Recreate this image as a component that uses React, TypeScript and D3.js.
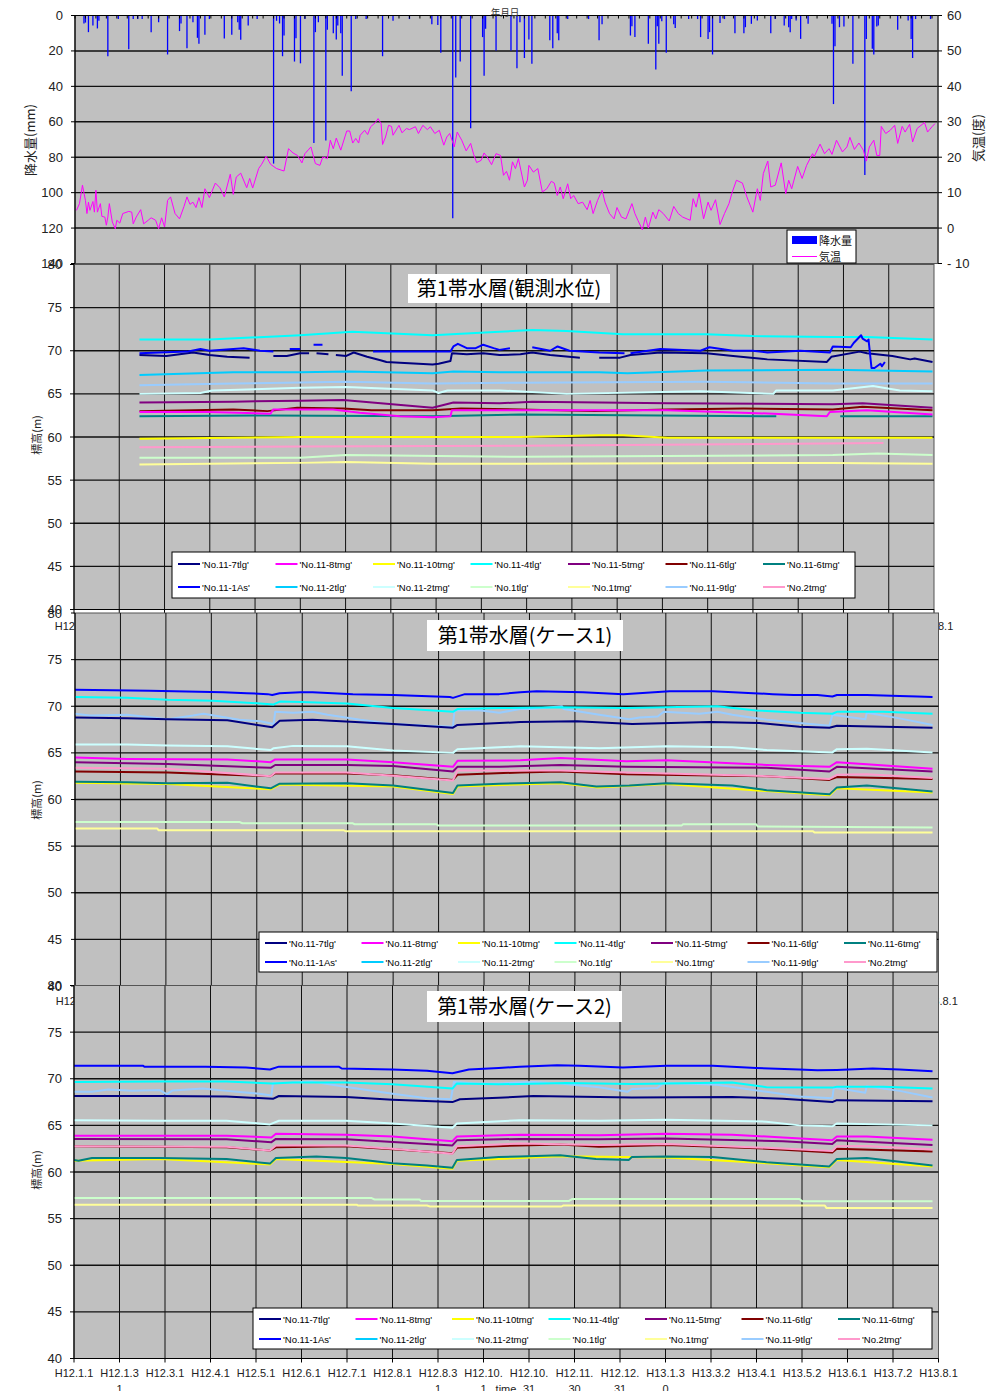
import React from "react";
import * as d3 from "d3";

type Pt = [number, number | null];

// ---- axis / category data ----
const TICK_LABELS = [
  "H12.1.1", "H12.1.31", "H12.3.1", "H12.4.1", "H12.5.1", "H12.6.1", "H12.7.1",
  "H12.8.1", "H12.8.31", "H12.10.1", "H12.10.31", "H12.11.30", "H12.12.31",
  "H13.1.30", "H13.3.2", "H13.4.1", "H13.5.2", "H13.6.1", "H13.7.2", "H13.8.1",
];
const DAY_SPAN = 578; // H12.1.1 .. H13.8.1
const RAIN_TICKS = [0, 20, 40, 60, 80, 100, 120, 140];
const TEMP_TICKS = [60, 50, 40, 30, 20, 10, 0, -10];
const LEVEL_TICKS = [80, 75, 70, 65, 60, 55, 50, 45, 40];

// legend order (row 1 then row 2)
const SERIES_NAMES = [
  "'No.11-7tlg'", "'No.11-8tmg'", "'No.11-10tmg'", "'No.11-4tlg'", "'No.11-5tmg'", "'No.11-6tlg'", "'No.11-6tmg'",
  "'No.11-1As'", "'No.11-2tlg'", "'No.11-2tmg'", "'No.1tlg'", "'No.1tmg'", "'No.11-9tlg'", "'No.2tmg'",
];
const SERIES_COLORS = [
  "#000080", "#ff00ff", "#ffff00", "#00ffff", "#800080", "#800000", "#008080",
  "#0000ff", "#00ccff", "#ccffff", "#ccffcc", "#ffff99", "#99ccff", "#ff99cc",
];

// ---- precipitation [day, mm] ----
const RAIN: [number, number][] = [
  [6, 4.5], [7, 4], [9, 9.4], [12, 5.6], [15, 7.3], [16, 3], [22, 23], [29, 2], [36, 19], [39, 2], [42, 2], [45, 2],
  [51, 9.4], [56, 3.8], [62, 22], [70, 8.8], [71, 4.5], [75, 18.5], [79, 3.8], [82, 12.6], [83, 16], [87, 10.8], [90, 2],
  [100, 13], [105, 10.8], [109, 3.8], [110, 8], [111, 13.7], [116, 5.7], [122, 2], [133, 83.6], [135, 3], [137, 4.5],
  [139, 23], [140, 11.3], [147, 26], [148, 12.8], [151, 27], [154, 2], [160, 72], [161, 9.4], [163, 3.8], [168, 70.6],
  [169, 8], [173, 10], [175, 13.5], [176, 5.6], [178, 10], [179, 34], [185, 42.7], [188, 2], [195, 2], [206, 23],
  [213, 3], [224, 2], [239, 5], [243, 5.3], [245, 21], [253, 114.5], [255, 35], [258, 26], [265, 63.6], [273, 12.2],
  [274, 34], [275, 7.5], [282, 19.8], [292, 19.8], [296, 29.8], [298, 3.8], [301, 24], [304, 13.5], [306, 27.3],
  [318, 14], [320, 18.5], [323, 10], [324, 14], [330, 2], [344, 2], [351, 14], [353, 5], [372, 11.3], [373, 6],
  [375, 12.2], [384, 16], [389, 30.5], [390, 6], [391, 16], [393, 3.2], [396, 21], [401, 5], [402, 7], [411, 2],
  [417, 2], [419, 12.2], [424, 13.2], [425, 9.4], [427, 22], [432, 4.3], [435, 2], [442, 10], [448, 10], [449, 6.6],
  [453, 4.7], [457, 2.8], [466, 10], [469, 2], [475, 5.6], [478, 6.6], [479, 9.4], [480, 2], [483, 2.8], [486, 13.2],
  [491, 4.7], [507, 4.7], [508, 50], [509, 17.3], [512, 6.6], [515, 6.2], [521, 27.3], [529, 90], [530, 13.2],
  [534, 18.8], [535, 22], [537, 6.2], [538, 5.6], [551, 8], [558, 2.8], [560, 13.2], [561, 24], [563, 2], [573, 2],
];

// ---- air temperature [day, deg C] ----
const TEMP: [number, number][] = [
  [1, 5.0], [3, 6.9], [5, 12.1], [7, 7.8], [8, 4.1], [9, 7.3], [10, 5.0], [12, 7.5], [13, 4.5], [14, 10.7], [15, 4.5],
  [17, 6.9], [18, 3.3], [20, 3.1], [21, 0.8], [22, 3.1], [23, 6.9], [25, 1.7], [27, -0.2], [28, 2.2], [30, 1.4],
  [32, 4.1], [36, 4.7], [38, 4.5], [39, 1.2], [41, 3.1], [44, 5.2], [46, 1.2], [49, 2.2], [51, 2.9], [54, 2.2],
  [56, -0.2], [58, 2.9], [60, 0.3], [62, 7.8], [64, 8.8], [67, 4.1], [70, 2.6], [73, 6.1], [75, 8.8], [77, 6.7],
  [79, 7.3], [81, 5.8], [83, 8.6], [85, 5.8], [87, 11.1], [90, 8.6], [94, 12.7], [97, 11.4], [100, 8.8], [104, 15.2],
  [106, 9.5], [108, 14.4], [111, 15.5], [115, 11.4], [117, 14.0], [119, 11.3], [123, 16.8], [125, 18.0], [128, 20.3],
  [131, 18.0], [135, 16.8], [140, 16.1], [143, 22.4], [146, 21.2], [149, 20.5], [152, 18.4], [154, 21.0], [158, 22.9],
  [161, 18.2], [164, 17.7], [166, 20.1], [169, 19.6], [171, 24.8], [173, 22.4], [175, 25.4], [178, 22.0], [182, 27.4],
  [184, 27.4], [186, 24.0], [188, 25.3], [190, 24.0], [191, 26.2], [194, 27.6], [196, 26.4], [198, 28.6], [201, 29.7],
  [203, 30.9], [205, 29.5], [206, 23.6], [208, 25.7], [210, 29.0], [212, 28.7], [213, 26.2], [217, 29.0], [219, 26.9],
  [222, 28.1], [224, 27.8], [228, 28.6], [230, 26.7], [233, 29.0], [236, 27.8], [238, 28.6], [241, 26.7], [244, 27.6],
  [247, 23.4], [249, 25.7], [251, 26.7], [254, 22.9], [256, 27.1], [259, 24.8], [262, 21.8], [265, 23.9], [267, 20.8],
  [269, 18.5], [272, 19.1], [274, 21.2], [276, 20.1], [279, 17.9], [282, 21.0], [285, 20.5], [287, 14.9], [289, 16.0],
  [291, 13.5], [293, 18.7], [295, 16.8], [297, 19.6], [301, 11.6], [303, 13.5], [304, 17.7], [307, 15.8], [310, 16.8],
  [313, 10.2], [316, 11.1], [319, 13.2], [321, 12.7], [323, 9.2], [325, 11.6], [327, 8.3], [330, 12.5], [332, 8.3],
  [334, 9.2], [337, 6.9], [340, 7.3], [343, 5.2], [345, 7.8], [347, 4.1], [350, 7.8], [353, 10.7], [355, 7.3],
  [358, 4.1], [361, 2.6], [363, 5.8], [366, 3.1], [369, 2.6], [373, 6.9], [375, 4.1], [377, 2.2], [380, -0.5],
  [382, 3.1], [384, 0.0], [387, 4.5], [389, 2.6], [391, 5.2], [394, 4.1], [398, 2.0], [401, 6.1], [404, 4.1], [407, 3.1],
  [412, 2.2], [414, 8.3], [416, 5.9], [418, 9.9], [421, 2.6], [424, 7.3], [426, 5.0], [429, 8.0], [432, 1.0], [435, 4.1],
  [438, 6.9], [440, 9.9], [443, 13.5], [447, 12.7], [450, 8.8], [454, 4.5], [457, 11.1], [459, 7.8], [461, 15.4],
  [464, 18.9], [466, 11.6], [469, 12.1], [473, 18.4], [476, 9.7], [478, 13.5], [480, 11.1], [484, 17.4], [487, 14.0],
  [490, 17.7], [494, 21.0], [495, 20.1], [499, 23.7], [502, 21.0], [505, 22.4], [507, 20.8], [510, 24.8], [514, 21.5],
  [517, 22.9], [519, 25.6], [522, 22.2], [525, 24.0], [528, 22.0], [530, 18.9], [532, 22.9], [535, 24.8], [537, 20.5],
  [539, 20.5], [540, 28.7], [543, 26.7], [546, 27.6], [549, 29.0], [551, 23.9], [554, 28.7], [556, 27.1], [559, 29.3],
  [561, 24.3], [564, 28.1], [569, 29.8], [571, 27.1], [574, 28.6], [576, 29.5],
];

// ---- observed levels (panel 2) [day, m] ----
const OBS_7TLG: Pt[] = [[44, 69.5], [62, 69.4], [80, 69.8], [91, 69.5], [103, 69.3], [118, 69.2], [119, null], [134, 69.4], [143, 69.4], [152, 69.7], [158, 69.7], [159, null], [163, 69.7], [171, 69.6], [172, null], [176, 69.5], [183, 69.4], [188, 69.8], [197, 69.3], [206, 68.9], [210, 68.7], [219, 68.6], [241, 68.4], [245, 68.5], [253, 68.8], [254, 69.7], [264, 69.6], [275, 69.7], [286, 69.5], [300, 69.6], [308, 69.8], [320, 69.5], [340, 69.2], [341, null], [353, 69.2], [367, 69.2], [374, 69.5], [394, 69.8], [425, 69.7], [443, 69.4], [466, 69.0], [506, 68.7], [509, 69.3], [528, 69.9], [533, 69.7], [550, 69.4], [562, 69.0], [565, 69.1], [577, 68.7]];
const OBS_8TMG: Pt[] = [[44, 62.9], [91, 62.9], [132, 62.7], [134, 63.2], [174, 63.2], [192, 62.8], [219, 62.4], [241, 62.3], [253, 62.4], [254, 63.1], [286, 63.1], [399, 63.1], [470, 62.7], [506, 62.4], [508, 62.9], [533, 63.1], [577, 62.6]];
const OBS_10TMG: Pt[] = [[44, 59.8], [152, 60.0], [253, 60.0], [300, 60.0], [353, 60.2], [369, 60.2], [399, 59.9], [577, 59.9]];
const OBS_4TLG: Pt[] = [[44, 71.3], [91, 71.3], [152, 71.8], [187, 72.2], [241, 71.8], [286, 72.2], [308, 72.4], [331, 72.3], [369, 71.9], [425, 71.9], [456, 71.7], [510, 71.6], [533, 71.6], [577, 71.3]];
const OBS_5TMG: Pt[] = [[44, 64.0], [107, 64.1], [152, 64.2], [181, 64.3], [241, 63.4], [255, 64.0], [286, 63.9], [308, 64.1], [399, 63.9], [510, 63.8], [530, 63.9], [577, 63.4]];
const OBS_6TLG: Pt[] = [[44, 63.0], [107, 63.2], [130, 63.0], [150, 63.4], [181, 63.3], [200, 63.1], [241, 63.1], [260, 63.3], [300, 63.2], [350, 63.0], [399, 63.2], [450, 63.3], [510, 63.2], [530, 63.5], [577, 63.1]];
const OBS_6TMG: Pt[] = [[44, 62.4], [130, 62.5], [241, 62.4], [300, 62.6], [472, 62.4], [473, null], [515, 62.4], [577, 62.4]];
const OBS_1AS: Pt[] = [[44, 69.7], [76, 69.9], [85, 70.2], [91, 70.0], [114, 70.3], [125, 70.0], [134, 69.9], [135, null], [145, 70.2], [152, 70.2], [153, null], [161, 70.7], [167, 70.7], [168, null], [201, 69.9], [241, 69.9], [253, 69.9], [255, 70.5], [258, 70.8], [264, 70.3], [270, 70.3], [275, 70.7], [282, 70.3], [286, 70.1], [293, 70.3], [295, null], [308, 70.4], [320, 70.0], [325, 70.5], [333, 70.0], [353, 69.8], [370, 69.7], [371, null], [374, 69.7], [394, 70.2], [421, 70.0], [427, 70.4], [443, 70.0], [456, 70.0], [466, 69.8], [488, 70.0], [508, 69.8], [510, 70.5], [522, 70.4], [524, 70.9], [529, 71.8], [530, 71.4], [533, 71.1], [534, 71.3], [536, 68.0], [538, 68.0], [542, 68.5], [543, 68.2], [545, 68.7]];
const OBS_2TLG: Pt[] = [[44, 67.2], [107, 67.5], [152, 67.5], [185, 67.6], [241, 67.4], [255, 67.6], [286, 67.5], [353, 67.5], [372, 67.4], [425, 67.7], [510, 67.8], [577, 67.6]];
const OBS_2TMG: Pt[] = [[44, 65.0], [85, 65.1], [93, 65.4], [152, 65.7], [183, 65.8], [241, 65.4], [245, 65.1], [251, 65.4], [286, 65.4], [331, 65.0], [421, 65.3], [470, 65.0], [472, 65.4], [510, 65.4], [537, 65.9], [555, 65.4], [577, 65.3]];
const OBS_1TLG: Pt[] = [[44, 57.6], [152, 57.6], [183, 57.9], [300, 57.7], [510, 57.9], [540, 58.1], [577, 57.9]];
const OBS_1TMG: Pt[] = [[44, 56.8], [152, 57.0], [183, 57.1], [241, 56.9], [300, 56.9], [510, 57.0], [577, 56.9]];
const OBS_9TLG: Pt[] = [[44, 66.0], [107, 66.2], [183, 66.4], [241, 66.2], [300, 66.3], [425, 66.4], [510, 66.2], [577, 66.2]];
const OBS_NO2TMG: Pt[] = [[44, 58.8], [152, 58.9], [300, 59.0], [544, 59.3]];

// ---- case 1 (panel 3) ----
const C1_7TLG: Pt[] = [[0, 68.8], [35, 68.7], [62, 68.6], [102, 68.5], [132, 67.75], [137, 68.45], [159, 68.55], [213, 68.1], [253, 67.7], [256, 68.0], [298, 68.3], [336, 68.4], [373, 68.1], [425, 68.3], [458, 68.2], [485, 67.8], [505, 67.7], [510, 67.9], [574, 67.7]];
const C1_8TMG: Pt[] = [[0, 64.5], [35, 64.35], [102, 64.3], [131, 64.0], [134, 64.3], [182, 64.3], [213, 64.0], [253, 63.5], [256, 64.15], [298, 64.2], [325, 64.45], [369, 64.1], [396, 64.2], [425, 64.0], [463, 63.7], [505, 63.5], [510, 64.0], [574, 63.3]];
const C1_10TMG: Pt[] = [[0, 61.8], [62, 61.65], [131, 61.1], [137, 61.6], [213, 61.4], [253, 60.6], [256, 61.4], [325, 61.75], [349, 61.3], [396, 61.65], [463, 60.9], [505, 60.45], [510, 61.2], [574, 60.75]];
const C1_4TLG: Pt[] = [[0, 71.0], [35, 70.9], [62, 70.7], [92, 70.6], [124, 70.3], [133, 70.2], [137, 70.5], [151, 70.45], [182, 70.3], [213, 69.8], [240, 69.55], [253, 69.4], [256, 69.7], [284, 69.8], [325, 69.9], [369, 69.8], [430, 70.0], [456, 69.55], [485, 69.3], [507, 69.2], [510, 69.4], [541, 69.4], [574, 69.2]];
const C1_5TMG: Pt[] = [[0, 64.0], [62, 63.8], [131, 63.4], [134, 63.7], [182, 63.7], [213, 63.6], [253, 63.0], [256, 63.5], [284, 63.5], [325, 63.7], [369, 63.5], [463, 63.4], [505, 63.0], [510, 63.5], [574, 63.0]];
const C1_6TLG: Pt[] = [[0, 63.0], [62, 62.9], [131, 62.5], [134, 62.8], [182, 62.8], [213, 62.6], [253, 62.1], [256, 62.65], [298, 62.9], [325, 63.0], [369, 62.7], [463, 62.5], [505, 62.1], [510, 62.4], [574, 62.2]];
const C1_6TMG: Pt[] = [[0, 61.9], [35, 61.85], [62, 61.75], [102, 61.8], [131, 61.2], [137, 61.7], [182, 61.75], [213, 61.5], [253, 60.7], [256, 61.5], [284, 61.7], [325, 61.85], [349, 61.4], [371, 61.5], [396, 61.75], [440, 61.5], [463, 61.0], [505, 60.55], [510, 61.3], [530, 61.5], [574, 60.85]];
const C1_1AS: Pt[] = [[0, 71.77], [50, 71.66], [99, 71.5], [115, 71.4], [129, 71.3], [132, 71.2], [137, 71.4], [151, 71.5], [159, 71.5], [186, 71.3], [213, 71.2], [251, 71.0], [253, 70.9], [261, 71.3], [284, 71.3], [298, 71.5], [309, 71.6], [340, 71.5], [367, 71.3], [398, 71.6], [427, 71.6], [454, 71.4], [467, 71.3], [481, 71.2], [497, 71.2], [507, 71.05], [510, 71.2], [530, 71.2], [552, 71.1], [564, 71.05], [574, 70.99]];
const C1_2TLG: Pt[] = [];
const C1_2TMG: Pt[] = [[0, 65.9], [35, 65.9], [62, 65.8], [102, 65.7], [131, 65.3], [133, 65.5], [146, 65.75], [182, 65.7], [213, 65.25], [253, 65.0], [256, 65.4], [298, 65.7], [351, 65.5], [396, 65.7], [440, 65.6], [463, 65.3], [507, 65.05], [510, 65.4], [530, 65.45], [574, 65.05]];
const C1_1TLG: Pt[] = [[0, 57.6], [110, 57.6], [112, 57.45], [186, 57.45], [187, 57.35], [242, 57.35], [243, 57.2], [406, 57.2], [407, 57.35], [456, 57.35], [457, 57.1], [574, 57.0]];
const C1_1TMG: Pt[] = [[0, 56.9], [55, 56.9], [56, 56.7], [180, 56.7], [181, 56.6], [494, 56.6], [495, 56.45], [574, 56.45]];
const C1_9TLG: Pt[] = [[0, 69.2], [10, 69.0], [35, 69.1], [62, 68.6], [79, 69.0], [86, 69.2], [110, 68.55], [124, 68.4], [133, 68.1], [134, 69.4], [146, 69.3], [159, 69.4], [169, 69.1], [191, 68.55], [213, 68.1], [236, 67.9], [253, 67.8], [254, 69.55], [269, 69.6], [284, 69.3], [298, 69.7], [305, 69.7], [326, 70.0], [327, 69.7], [351, 69.1], [371, 68.6], [378, 68.8], [390, 68.9], [394, 69.4], [418, 69.2], [430, 69.4], [440, 69.1], [463, 68.55], [485, 68.2], [505, 67.9], [507, 69.1], [529, 68.6], [530, 69.3], [552, 68.7], [574, 68.0]];
const C1_NO2TMG: Pt[] = [[0, 63.4], [62, 63.3], [131, 62.5], [134, 62.9], [182, 62.9], [213, 62.55], [253, 62.05], [256, 63.1], [284, 63.1], [325, 63.1], [369, 62.9], [463, 62.5], [505, 62.2], [510, 62.65], [530, 62.7], [574, 62.3]];

// ---- case 2 (panel 4) ----
const C2_7TLG: Pt[] = [[0, 68.15], [57, 68.15], [102, 68.1], [133, 67.85], [137, 68.15], [182, 68.05], [213, 67.75], [253, 67.5], [258, 67.8], [284, 67.95], [307, 68.15], [373, 68.0], [440, 68.05], [474, 67.85], [507, 67.5], [510, 67.7], [574, 67.6]];
const C2_8TMG: Pt[] = [[0, 63.9], [57, 63.9], [102, 63.9], [132, 63.7], [135, 64.1], [182, 64.0], [213, 63.8], [253, 63.3], [256, 63.8], [298, 64.0], [351, 63.95], [396, 64.1], [440, 64.0], [474, 63.7], [507, 63.4], [510, 63.8], [530, 63.8], [574, 63.45]];
const C2_10TMG: Pt[] = [[0, 61.2], [57, 61.4], [131, 60.8], [135, 61.4], [213, 60.85], [253, 60.35], [256, 61.2], [325, 61.7], [396, 61.55], [463, 60.95], [505, 60.5], [510, 61.3], [574, 60.6]];
const C2_4TLG: Pt[] = [[0, 69.65], [57, 69.7], [102, 69.7], [133, 69.5], [146, 69.6], [182, 69.6], [213, 69.4], [253, 68.95], [256, 69.5], [284, 69.4], [329, 69.55], [373, 69.45], [440, 69.6], [463, 69.1], [507, 69.05], [510, 69.15], [541, 69.15], [574, 68.95]];
const C2_5TMG: Pt[] = [[0, 63.55], [102, 63.5], [132, 63.2], [135, 63.55], [182, 63.5], [253, 62.85], [256, 63.4], [298, 63.55], [351, 63.5], [396, 63.6], [474, 63.3], [507, 63.0], [510, 63.4], [574, 62.9]];
const C2_6TLG: Pt[] = [[0, 62.75], [102, 62.65], [131, 62.3], [135, 62.65], [182, 62.75], [213, 62.45], [253, 62.0], [256, 62.6], [298, 62.85], [325, 62.95], [351, 62.7], [396, 62.9], [463, 62.5], [507, 62.1], [510, 62.5], [574, 62.2]];
const C2_6TMG: Pt[] = [[0, 61.3], [3, 61.2], [12, 61.5], [57, 61.5], [102, 61.4], [131, 60.9], [135, 61.5], [162, 61.65], [182, 61.5], [213, 60.95], [236, 60.7], [253, 60.45], [256, 61.3], [284, 61.6], [298, 61.65], [325, 61.8], [349, 61.4], [371, 61.3], [373, 61.6], [396, 61.65], [427, 61.6], [463, 61.05], [505, 60.6], [510, 61.4], [530, 61.5], [574, 60.7]];
const C2_1AS: Pt[] = [[0, 71.4], [46, 71.4], [47, 71.3], [88, 71.3], [115, 71.2], [131, 71.0], [137, 71.3], [146, 71.3], [177, 71.3], [179, 71.1], [213, 71.0], [236, 70.85], [253, 70.6], [264, 71.0], [284, 71.15], [298, 71.3], [323, 71.45], [338, 71.4], [367, 71.2], [396, 71.4], [427, 71.4], [456, 71.15], [485, 71.0], [497, 70.9], [510, 70.95], [534, 71.1], [552, 71.0], [574, 70.8]];
const C2_2TLG: Pt[] = [];
const C2_2TMG: Pt[] = [[0, 65.55], [57, 65.5], [102, 65.5], [131, 65.1], [137, 65.5], [182, 65.5], [213, 65.2], [253, 64.75], [256, 65.2], [298, 65.55], [351, 65.5], [396, 65.6], [463, 65.4], [485, 65.0], [507, 64.9], [510, 65.2], [574, 65.0]];
const C2_1TLG: Pt[] = [[0, 57.2], [199, 57.2], [201, 57.05], [231, 57.05], [232, 56.9], [331, 56.9], [333, 57.1], [485, 57.1], [487, 56.85], [574, 56.85]];
const C2_1TMG: Pt[] = [[0, 56.5], [189, 56.5], [190, 56.4], [236, 56.4], [238, 56.3], [326, 56.3], [327, 56.4], [502, 56.4], [503, 56.15], [574, 56.15]];
const C2_9TLG: Pt[] = [[0, 68.6], [12, 68.6], [23, 68.85], [39, 68.7], [57, 68.8], [62, 68.35], [66, 68.75], [86, 68.95], [102, 68.7], [124, 68.4], [132, 68.2], [133, 69.55], [146, 69.6], [159, 69.7], [179, 69.2], [213, 68.4], [236, 67.9], [252, 67.8], [254, 69.65], [269, 69.5], [284, 69.5], [307, 69.65], [325, 69.5], [351, 69.1], [370, 68.6], [373, 68.9], [390, 69.0], [394, 69.55], [418, 69.45], [430, 69.35], [463, 68.6], [485, 68.1], [507, 67.9], [508, 69.05], [529, 68.5], [530, 69.2], [552, 68.7], [574, 68.0]];
const C2_NO2TMG: Pt[] = [[0, 62.75], [102, 62.7], [131, 62.3], [135, 62.85], [182, 62.85], [213, 62.5], [253, 61.95], [256, 62.75], [298, 63.05], [351, 62.9], [396, 63.0], [463, 62.6], [507, 62.25], [510, 62.75], [530, 62.8], [574, 62.4]];

const OBS = [OBS_7TLG, OBS_8TMG, OBS_10TMG, OBS_4TLG, OBS_5TMG, OBS_6TLG, OBS_6TMG, OBS_1AS, OBS_2TLG, OBS_2TMG, OBS_1TLG, OBS_1TMG, OBS_9TLG, OBS_NO2TMG];
const CASE1 = [C1_7TLG, C1_8TMG, C1_10TMG, C1_4TLG, C1_5TMG, C1_6TLG, C1_6TMG, C1_1AS, C1_2TLG, C1_2TMG, C1_1TLG, C1_1TMG, C1_9TLG, C1_NO2TMG];
const CASE2 = [C2_7TLG, C2_8TMG, C2_10TMG, C2_4TLG, C2_5TMG, C2_6TLG, C2_6TMG, C2_1AS, C2_2TLG, C2_2TMG, C2_1TLG, C2_1TMG, C2_9TLG, C2_NO2TMG];

// draw order so that overlaps look like the original
const DRAW_ORDER = [11, 10, 2, 6, 5, 13, 4, 1, 9, 12, 8, 3, 0, 7];

const FONT = "'Liberation Sans', Arial, 'Noto Sans CJK JP', sans-serif";
const JP = "'Noto Sans CJK JP', 'Liberation Sans', sans-serif";
const PLOT_BG = "#c0c0c0";

// the x labels of the upper two level panels are covered by the next panel,
// only their outer ends peek out, so only those are drawn
const LEVEL_PANELS = [
  { id: "obs", data: OBS, x0: 74, x1: 934, y0: 264.5, y1: 609.5, title: "第1帯水層(観測水位)", tBox: [408, 274, 202, 29],
    legend: { x: 172, y: 552, w: 683, h: 46, col: 97.5, r1: 564, r2: 587 }, labelY: 630, axisY: 435, allLabels: false },
  { id: "c1", data: CASE1, x0: 75, x1: 938.5, y0: 613, y1: 986, title: "第1帯水層(ケース1)", tBox: [427, 620, 196, 31],
    legend: { x: 259, y: 932, w: 678, h: 40, col: 96.5, r1: 943, r2: 962 }, labelY: 1005, axisY: 800, allLabels: false },
  { id: "c2", data: CASE2, x0: 74, x1: 938.5, y0: 985.5, y1: 1358.5, title: "第1帯水層(ケース2)", tBox: [427, 991, 195, 31],
    legend: { x: 253, y: 1308, w: 679, h: 41, col: 96.5, r1: 1319, r2: 1339 }, labelY: 1377, axisY: 1170, allLabels: true },
];

const splitLabel = (s: string) => (s.length > 7 ? [s.slice(0, 7), s.slice(7)] : [s]);

function RainPanel() {
  const x0 = 75, x1 = 938, y0 = 15.5, y1 = 263.5;
  const x = d3.scaleLinear().domain([0, DAY_SPAN]).range([x0, x1]);
  const yr = d3.scaleLinear().domain([0, 140]).range([y0, y1]);
  const yt = d3.scaleLinear().domain([-10, 60]).range([y1, y0]);
  const tempLine = d3.line<[number, number]>().x((d) => x(d[0])).y((d) => yt(d[1]))(TEMP) || "";
  const weeks = d3.range(0, DAY_SPAN + 1, 7);
  return (
    <g>
      <rect x={x0} y={y0} width={x1 - x0} height={y1 - y0} fill={PLOT_BG} stroke="#555" strokeWidth={1} />
      {RAIN_TICKS.slice(1, -1).map((t) => (
        <line key={t} x1={x0} x2={x1} y1={yr(t)} y2={yr(t)} stroke="#111" strokeWidth={1.4} />
      ))}
      {RAIN.map(([d, v]) => (
        <line key={d} x1={x(d)} x2={x(d)} y1={y0} y2={yr(v)} stroke="#0000ff" strokeWidth={1.3} />
      ))}
      <path d={tempLine} fill="none" stroke="#ff00ff" strokeWidth={1} />
      {weeks.map((d) => (
        <line key={d} x1={x(d)} x2={x(d)} y1={y0} y2={y0 + 3} stroke="#000" strokeWidth={1} />
      ))}
      <line x1={x0} x2={x1} y1={y0} y2={y0} stroke="#000" strokeWidth={1.2} />
      <line x1={x0} x2={x0} y1={y0} y2={y1} stroke="#000" strokeWidth={1.2} />
      <line x1={x1} x2={x1} y1={y0} y2={y1} stroke="#333" strokeWidth={1.2} />
      {RAIN_TICKS.map((t) => (
        <g key={t}>
          <line x1={x0 - 4} x2={x0} y1={yr(t)} y2={yr(t)} stroke="#000" />
          <text x={63} y={yr(t) + 4.5} textAnchor="end" fontSize={13} fontFamily={FONT} fill="#222">{t}</text>
        </g>
      ))}
      {TEMP_TICKS.map((t) => (
        <g key={t}>
          <line x1={x1} x2={x1 + 4} y1={yt(t)} y2={yt(t)} stroke="#000" />
          <text x={947} y={yt(t) + 4.5} fontSize={13} fontFamily={FONT} fill="#222">{t < 0 ? `- ${-t}` : t}</text>
        </g>
      ))}
      <text x={505} y={16} textAnchor="middle" fontSize={9.5} fontFamily={JP} fill="#333">年月日</text>
      <text transform="translate(35,140) rotate(-90)" textAnchor="middle" fontSize={13} fontFamily={JP} fill="#222">降水量(mm)</text>
      <text transform="translate(983,138) rotate(-90)" textAnchor="middle" fontSize={13} fontFamily={JP} fill="#222">気温(度)</text>
      <rect x={787} y={230} width={69} height={33} fill="#fff" stroke="#000" strokeWidth={1} />
      <rect x={792} y={236} width={25} height={8} fill="#0000ff" />
      <text x={819} y={244.5} fontSize={11} fontFamily={JP} fill="#111">降水量</text>
      <line x1={792} x2={817} y1={256.5} y2={256.5} stroke="#ff00ff" strokeWidth={1} />
      <text x={819} y={260.5} fontSize={11} fontFamily={JP} fill="#111">気温</text>
    </g>
  );
}

function LevelPanel({ p }: { p: (typeof LEVEL_PANELS)[number] }) {
  const x = d3.scaleLinear().domain([0, DAY_SPAN]).range([p.x0, p.x1]);
  const y = d3.scaleLinear().domain([40, 80]).range([p.y1, p.y0]);
  const line = d3.line<Pt>().defined((d) => d[1] != null).x((d) => x(d[0])).y((d) => y(d[1] as number));
  const tickDays = TICK_LABELS.map((_, i) => (i * DAY_SPAN) / (TICK_LABELS.length - 1));
  const last = TICK_LABELS.length - 1;
  const clipId = `clip-${p.id}`;
  const L = p.legend;
  return (
    <g>
      <clipPath id={clipId}>
        <rect x={p.x0} y={p.y0} width={p.x1 - p.x0} height={p.y1 - p.y0} />
      </clipPath>
      <rect x={p.x0} y={p.y0} width={p.x1 - p.x0} height={p.y1 - p.y0} fill={PLOT_BG} stroke="#555" strokeWidth={1} />
      {LEVEL_TICKS.slice(1, -1).map((t) => (
        <line key={t} x1={p.x0} x2={p.x1} y1={y(t)} y2={y(t)} stroke="#111" strokeWidth={1.3} />
      ))}
      {tickDays.slice(1, -1).map((d) => (
        <line key={d} x1={x(d)} x2={x(d)} y1={p.y0} y2={p.y1} stroke="#111" strokeWidth={1} />
      ))}
      <g clipPath={`url(#${clipId})`}>
        {DRAW_ORDER.map((i) =>
          p.data[i].length ? (
            <path key={i} d={line(p.data[i]) || ""} fill="none" stroke={SERIES_COLORS[i]} strokeWidth={2} strokeLinejoin="round" />
          ) : null
        )}
      </g>
      <line x1={p.x0} x2={p.x0} y1={p.y0} y2={p.y1} stroke="#000" strokeWidth={1.2} />
      <line x1={p.x0} x2={p.x1} y1={p.y1} y2={p.y1} stroke="#000" strokeWidth={1.2} />
      {LEVEL_TICKS.map((t) => (
        <g key={t}>
          <line x1={p.x0 - 4} x2={p.x0} y1={y(t)} y2={y(t)} stroke="#000" />
          <text x={62} y={y(t) + 4.5} textAnchor="end" fontSize={13} fontFamily={FONT} fill="#222">{t}</text>
        </g>
      ))}
      {tickDays.map((d, i) => (
        <g key={d}>
          <line x1={x(d)} x2={x(d)} y1={p.y1} y2={p.y1 + 4} stroke="#000" />
          {(p.allLabels || i === 0 || i === last) &&
            splitLabel(TICK_LABELS[i]).slice(0, p.allLabels ? 2 : 1).map((s, k) => (
              <text key={k} x={x(d)} y={p.labelY + k * 16} textAnchor="middle" fontSize={11} fontFamily={FONT} fill="#222">{s}</text>
            ))}
        </g>
      ))}
      {p.allLabels && (
        <text x={506} y={p.labelY + 16} textAnchor="middle" fontSize={11} fontFamily={FONT} fill="#222">time</text>
      )}
      <text transform={`translate(41,${p.axisY}) rotate(-90)`} textAnchor="middle" fontSize={11} fontFamily={JP} fill="#222">標高(m)</text>
      <rect x={p.tBox[0]} y={p.tBox[1]} width={p.tBox[2]} height={p.tBox[3]} fill="#fff" />
      <text x={p.tBox[0] + p.tBox[2] / 2} y={p.tBox[1] + p.tBox[3] / 2 + 7} textAnchor="middle" fontSize={20} fontFamily={JP} fill="#000">{p.title}</text>
      <rect x={L.x} y={L.y} width={L.w} height={L.h} fill="#fff" stroke="#000" strokeWidth={1} />
      {SERIES_NAMES.map((name, i) => {
        const c = i % 7;
        const ry = i < 7 ? L.r1 : L.r2;
        const lx = L.x + 6 + c * L.col;
        return (
          <g key={name}>
            <line x1={lx} x2={lx + 22} y1={ry} y2={ry} stroke={SERIES_COLORS[i]} strokeWidth={2} />
            <text x={lx + 24} y={ry + 3.5} fontSize={9.5} fontFamily={FONT} fill="#000">{name}</text>
          </g>
        );
      })}
    </g>
  );
}

export default function App() {
  return (
    <svg width={988} height={1391} style={{ position: "absolute", left: 0, top: 0, background: "#fff" }}>
      <rect width={988} height={1391} fill="#fff" />
      <RainPanel />
      {LEVEL_PANELS.map((p) => (
        <LevelPanel key={p.id} p={p} />
      ))}
    </svg>
  );
}
